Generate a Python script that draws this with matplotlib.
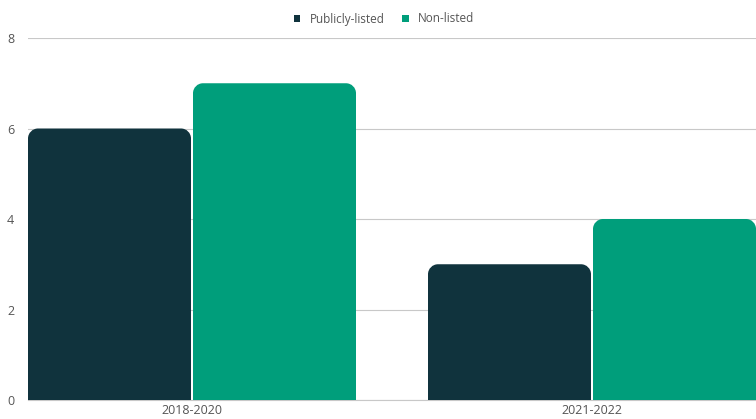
import numpy as np
import matplotlib
matplotlib.use("Agg")
import matplotlib.pyplot as plt
from matplotlib.path import Path
from matplotlib.patches import PathPatch, Patch

plt.rcParams["font.family"] = ["Open Sans", "DejaVu Sans"]

periods = ["2018-2020", "2021-2022"]
series_names = ["Publicly-listed", "Non-listed"]
publicly_listed = [6, 3]
non_listed = [7, 4]
colors = ["#10333d", "#009e7b"]

W, H = 756, 419
fig = plt.figure(figsize=(W / 100, H / 100), dpi=100)
ax = fig.add_axes([28 / W, 19 / H, 1 - 28 / W, (400 - 38) / H])

bar_w = 0.4075
gap = 0.005
xlim = (-0.41, 1.41)
ylim = (0, 8)
ax.set_xlim(*xlim)
ax.set_ylim(*ylim)

# corner radius in pixels, converted to data units on each axis
ax_px_w = W - 28
ax_px_h = 400 - 38
r_px = 10
rx = r_px * (xlim[1] - xlim[0]) / ax_px_w
ry = r_px * (ylim[1] - ylim[0]) / ax_px_h
k = 0.5523


def rounded_top_bar(x0, width, height):
    x1 = x0 + width
    verts = [
        (x0, 0), (x0, height - ry),
        (x0, height - ry + k * ry), (x0 + rx - k * rx, height), (x0 + rx, height),
        (x1 - rx, height),
        (x1 - rx + k * rx, height), (x1, height - ry + k * ry), (x1, height - ry),
        (x1, 0), (x0, 0),
    ]
    codes = [
        Path.MOVETO, Path.LINETO,
        Path.CURVE4, Path.CURVE4, Path.CURVE4,
        Path.LINETO,
        Path.CURVE4, Path.CURVE4, Path.CURVE4,
        Path.LINETO, Path.CLOSEPOLY,
    ]
    return Path(verts, codes)


x = np.arange(len(periods))
for i, vals in enumerate([publicly_listed, non_listed]):
    for xi, v in zip(x, vals):
        left = xi - bar_w - gap / 2 if i == 0 else xi + gap / 2
        ax.add_patch(PathPatch(rounded_top_bar(left, bar_w, v),
                               facecolor=colors[i], edgecolor="none", zorder=3))

ax.set_yticks([0, 2, 4, 6, 8])
ax.yaxis.grid(True, color="#c8c8c8", linewidth=0.8, zorder=0)
ax.set_axisbelow(True)
ax.set_xticks(x)
ax.set_xticklabels(periods)
ax.tick_params(axis="both", length=0, labelsize=9, colors="#555555")
ax.tick_params(axis="y", pad=10)
ax.tick_params(axis="x", pad=3)
for side in ["top", "right", "left"]:
    ax.spines[side].set_visible(False)
ax.spines["bottom"].set_color("#c8c8c8")
ax.spines["bottom"].set_linewidth(0.8)

handles = [Patch(facecolor=c, edgecolor="none") for c in colors]
fig.legend(handles, series_names, loc="center", bbox_to_anchor=(384 / W, 1 - 19 / H),
           ncol=2, frameon=False, fontsize=8.5, labelcolor="#555555",
           handlelength=0.55, handleheight=0.55, handletextpad=0.8, columnspacing=1.5)

fig.savefig("out.png", dpi=100)
